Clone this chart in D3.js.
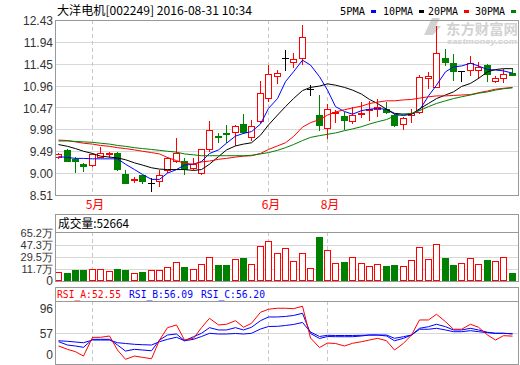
<!DOCTYPE html>
<html>
<head>
<meta charset="utf-8">
<script src="https://cdn.jsdelivr.net/npm/d3@7"></script>
<style>
  html, body { margin: 0; padding: 0; background: #fff; }
  svg { display: block; }
</style>
</head>
<body>
<div id="chart"></div>
<script>
// ---- data ----
var opens  = [9.37,9.52,9.31,9.21,9.19,9.37,9.43,9.44,8.98,8.85,8.96,8.79,8.82,9.08,9.28,9.28,9.11,9.00,9.53,9.84,9.90,9.93,10.09,9.82,10.17,10.68,11.18,11.59,11.50,11.57,10.88,10.30,10.00,10.37,10.28,10.17,10.34,10.42,10.43,10.44,10.30,10.11,10.30,10.38,11.12,10.94,11.57,11.47,11.29,11.31,11.31,11.43,11.06,11.12,11.25];
var highs  = [9.45,9.53,9.37,9.22,9.45,9.59,9.47,9.48,9.07,8.92,8.96,8.88,9.07,9.37,9.78,9.34,9.33,9.55,10.17,9.89,10.07,10.07,10.32,10.19,11.06,11.42,11.32,11.76,11.68,12.32,10.97,10.75,10.54,10.41,10.38,10.49,10.60,10.62,10.67,10.60,10.32,10.26,10.43,11.20,11.27,12.29,11.79,11.66,11.29,11.63,11.49,11.45,11.17,11.34,11.35];
var lows   = [9.33,9.27,9.03,9.05,9.17,9.36,9.37,9.07,8.77,8.81,8.77,8.61,8.72,9.02,9.25,8.99,9.10,8.97,9.50,9.69,9.70,9.63,9.89,9.74,10.15,10.62,11.01,11.30,11.38,11.44,10.75,9.97,9.78,10.15,9.99,10.13,10.26,10.20,10.28,10.34,10.06,9.99,10.14,10.34,10.90,10.92,11.42,11.09,11.06,11.20,11.12,11.07,11.04,11.05,11.19];
var closes = [9.43,9.28,9.28,9.16,9.43,9.44,9.44,9.10,8.79,8.86,8.83,8.79,8.96,9.33,9.44,9.10,9.20,9.53,9.97,9.81,9.88,10.05,9.92,10.05,10.79,11.21,11.24,11.59,11.55,12.04,10.88,10.08,10.44,10.38,10.20,10.30,10.35,10.43,10.47,10.38,10.08,10.23,10.35,11.15,11.18,11.68,11.48,11.29,11.29,11.47,11.38,11.23,11.12,11.22,11.20];
// volume in 万
var volumes = [6.8,5.3,9.8,9.8,11.2,11.2,8.3,11.7,9.8,5.3,6.8,9.8,9.8,15.1,22.5,14.7,11.2,19.6,29.1,17.6,17.6,26.1,28.0,18.7,46.3,53.3,35.0,42.5,23.6,35.0,12.7,59.2,39.9,20.2,22.1,29.1,20.2,15.7,18.7,16.2,17.6,15.7,24.6,43.9,26.1,48.4,28.0,17.6,20.2,28.0,18.7,25.1,23.6,29.1,5.2664];

var ma5  = [9.37,9.35,9.33,9.33,9.32,9.32,9.32,9.32,9.20,9.08,8.97,8.86,8.86,9.00,9.08,9.18,9.20,9.26,9.44,9.52,9.67,9.83,9.89,9.93,10.10,10.45,10.67,11.05,11.27,11.53,11.42,11.16,10.86,10.49,10.38,10.32,10.40,10.43,10.45,10.43,10.32,10.29,10.32,10.41,10.73,10.97,11.27,11.38,11.40,11.46,11.40,11.32,11.31,11.29,11.24];
var ma10 = [9.64,9.60,9.55,9.49,9.44,9.38,9.36,9.34,9.30,9.23,9.18,9.12,9.09,9.08,9.08,9.08,9.06,9.08,9.20,9.37,9.52,9.61,9.65,9.68,9.85,10.08,10.30,10.49,10.67,10.85,10.92,10.95,11.00,10.97,10.92,10.86,10.77,10.65,10.56,10.43,10.34,10.32,10.32,10.44,10.56,10.67,10.75,10.82,10.94,11.01,11.12,11.27,11.32,11.34,11.34];
var ma20 = [9.74,9.73,9.70,9.67,9.65,9.62,9.60,9.57,9.55,9.52,9.49,9.46,9.43,9.35,9.28,9.22,9.20,9.25,9.27,9.31,9.33,9.36,9.38,9.39,9.44,9.53,9.61,9.68,9.82,10.03,10.13,10.20,10.30,10.37,10.42,10.46,10.50,10.56,10.59,10.62,10.62,10.64,10.65,10.68,10.71,10.73,10.73,10.74,10.75,10.76,10.80,10.84,10.88,10.90,10.92];
var ma30 = [9.72,9.72,9.71,9.70,9.69,9.67,9.65,9.62,9.60,9.57,9.55,9.53,9.51,9.49,9.47,9.43,9.41,9.39,9.39,9.39,9.39,9.39,9.39,9.40,9.43,9.46,9.51,9.57,9.64,9.73,9.80,9.84,9.87,9.90,9.95,9.99,10.04,10.10,10.15,10.20,10.28,10.32,10.34,10.40,10.49,10.56,10.62,10.67,10.71,10.75,10.79,10.82,10.86,10.89,10.91];

var rsiA = [37.2,32.0,28.3,21.5,50.7,50.7,52.8,30.9,16.4,21.5,19.5,17.3,46.5,65.8,70.0,46.5,49.2,65.8,80.4,70.0,71.1,76.7,66.4,72.6,89.8,94.5,96.1,96.1,95.4,99.2,49.7,34.8,41.8,41.1,37.2,41.4,43.9,46.5,49.2,45.4,30.9,41.4,54.3,77.8,77.8,86.7,75.1,63.3,63.3,71.1,66.4,54.3,46.5,53.3,52.55];
var rsiB = [43.9,38.7,37.2,35.1,47.6,47.6,47.6,38.7,29.3,32.0,30.9,29.8,46.5,54.3,55.9,45.4,51.7,57.0,65.8,62.2,62.2,65.8,62.2,66.4,76.7,82.5,82.5,83.3,84.8,88.2,56.7,48.9,52.0,51.7,51.7,51.7,52.8,54.3,54.3,52.8,45.4,49.2,54.3,64.8,67.3,71.1,67.3,62.2,62.2,64.8,62.2,58.6,57.0,57.0,56.09];
var rsiC = [45.4,44.5,43.4,42.3,46.5,46.5,46.5,42.3,41.1,39.8,39.2,38.7,43.9,47.6,50.8,45.4,47.6,52.0,57.0,55.9,55.9,56.7,55.9,57.0,63.7,67.6,67.9,69.2,70.8,73.9,59.0,52.0,53.9,53.6,53.6,53.6,53.9,54.3,54.3,54.3,49.2,51.7,54.3,63.3,63.3,64.8,62.2,59.5,59.5,61.1,59.5,57.9,57.0,57.0,56.20];

var monthIdx  = [4, 25, 32];
var monthText = ["5月", "6月", "8月"];
var priceTicks = [8.51, 9.00, 9.49, 9.98, 10.47, 10.96, 11.45, 11.94, 12.43];
var volTicks   = [11.7, 29.5, 47.3, 65.2];
var rsiTicks   = [96, 57];
var maNames  = ["5PMA", "10PMA", "20PMA", "30PMA"];
var maColors = ["#0000ff", "#000000", "#ff0000", "#008000"];

// ---- layout ----
var W = 520, H = 365;
var L = 55, R = 518;
var mainTop = 20, mainBot = 195;
var volTop = 214, volHead = 232, volBot = 281;
var rsiTop = 287, rsiHead = 301, rsiBot = 364;
var UP = "#ff0000", DOWN = "#008000", FRAME = "#999999", GRID = "#d8d8d8";
var labelFont = "Liberation Sans, Arial, sans-serif";

var svg = d3.select("#chart").append("svg")
    .attr("width", W).attr("height", H)
    .attr("viewBox", "0 0 " + W + " " + H);

var n = closes.length;
var x = d3.scaleBand().domain(d3.range(n)).range([54, 516]);
function cx(i) { return Math.round(x(i) + x.bandwidth() / 2); }

var y = d3.scaleLinear().domain([8.51, 12.43]).range([mainBot, mainTop]);
// volume panel: 11.7万 grid at 269, 65.2万 at 233
var yv = d3.scaleLinear().domain([11.7, 65.2]).range([269, 233]);
// rsi panel: 57 grid at 333
var yr = d3.scaleLinear().domain([57, 96]).range([333.3, 308.3]);

// watermark
var wm = svg.append("g").attr("fill", "#d2d2d2");
wm.append("path").attr("d", "M424,35 L432,18 L440,18 L436,26 L441,26 L433,35 Z");
wm.append("text").attr("x", 446).attr("y", 34)
    .attr("font-family", "Noto Sans CJK SC").attr("font-weight", "bold").attr("font-size", 14)
    .attr("textLength", 72).attr("lengthAdjust", "spacingAndGlyphs").text("东方财富网");
wm.append("text").attr("x", 447).attr("y", 44)
    .attr("font-family", labelFont).attr("font-weight", "bold").attr("font-style", "italic").attr("font-size", 7)
    .attr("textLength", 70).attr("lengthAdjust", "spacingAndGlyphs").text("eastmoney.com");

// ---- grids ----
var grid = svg.append("g").attr("stroke", GRID).attr("shape-rendering", "crispEdges");
priceTicks.slice(1, -1).forEach(function (t) {
    grid.append("line").attr("x1", L).attr("x2", R)
        .attr("y1", Math.round(y(t)) + 0.5).attr("y2", Math.round(y(t)) + 0.5);
});
volTicks.slice(0, 3).forEach(function (t) {
    grid.append("line").attr("x1", L).attr("x2", R)
        .attr("y1", Math.round(yv(t)) + 0.5).attr("y2", Math.round(yv(t)) + 0.5);
});
grid.append("line").attr("x1", L).attr("x2", R)
    .attr("y1", Math.round(yr(57)) + 0.5).attr("y2", Math.round(yr(57)) + 0.5);

// month dashed lines
var dash = svg.append("g").attr("stroke", "#c8c8c8").attr("stroke-dasharray", "4,3").attr("shape-rendering", "crispEdges");
monthIdx.forEach(function (i) {
    [[mainTop, mainBot], [volHead, volBot], [rsiHead, rsiBot]].forEach(function (p) {
        dash.append("line").attr("x1", cx(i) + 0.5).attr("x2", cx(i) + 0.5).attr("y1", p[0]).attr("y2", p[1]);
    });
});

// ---- candles ----
var candles = svg.append("g").attr("shape-rendering", "crispEdges");
d3.range(n).forEach(function (i) {
    var o = opens[i], c = closes[i];
    var col = c > o ? UP : (c < o ? DOWN : "#000000");
    var px = cx(i);
    var g = candles.append("g");
    g.append("line").attr("x1", px + 0.5).attr("x2", px + 0.5)
        .attr("y1", Math.round(y(highs[i]))).attr("y2", Math.round(y(lows[i])) + 1)
        .attr("stroke", col);
    var top = Math.round(y(Math.max(o, c))), bot = Math.round(y(Math.min(o, c)));
    if (c > o) {
        g.append("rect").attr("x", px - 3 + 0.5).attr("y", top + 0.5)
            .attr("width", 6).attr("height", Math.max(1, bot - top))
            .attr("fill", "#fff").attr("stroke", col);
    } else if (c < o) {
        g.append("rect").attr("x", px - 3).attr("y", top)
            .attr("width", 7).attr("height", Math.max(1, bot - top + 1))
            .attr("fill", col);
    } else {
        g.append("line").attr("x1", px - 3).attr("x2", px + 4)
            .attr("y1", top + 0.5).attr("y2", top + 0.5).attr("stroke", col);
    }
});

// ---- moving averages ----
var line = d3.line().x(function (d, i) { return cx(i) + 0.5; }).y(function (d) { return y(d); });
[ma5, ma10, ma20, ma30].forEach(function (s, k) {
    svg.append("path").datum(s).attr("d", line)
        .attr("fill", "none").attr("stroke", maColors[k]).attr("stroke-width", 1);
});

// ---- volume ----
var vol = svg.append("g").attr("shape-rendering", "crispEdges");
d3.range(n).forEach(function (i) {
    var up = closes[i] >= opens[i];
    var px = cx(i), top = Math.round(yv(volumes[i]));
    if (up) {
        vol.append("rect").attr("x", px - 3 + 0.5).attr("y", top + 0.5)
            .attr("width", 6).attr("height", volBot - 1 - top)
            .attr("fill", "#fff").attr("stroke", UP);
    } else {
        vol.append("rect").attr("x", px - 3).attr("y", top)
            .attr("width", 7).attr("height", volBot - top)
            .attr("fill", DOWN);
    }
});

// ---- rsi ----
var rline = d3.line().x(function (d, i) { return cx(i) + 0.5; }).y(function (d) { return yr(d); });
[[rsiC, "#0000ff"], [rsiB, "#0000ff"], [rsiA, "#ff0000"]].forEach(function (p) {
    svg.append("path").datum(p[0]).attr("d", rline)
        .attr("fill", "none").attr("stroke", p[1]).attr("stroke-width", 1);
});

// ---- frames ----
var frames = svg.append("g").attr("fill", "none").attr("stroke", FRAME).attr("shape-rendering", "crispEdges");
frames.append("rect").attr("x", L + 0.5).attr("y", mainTop + 0.5).attr("width", R - L).attr("height", mainBot - mainTop);
frames.append("rect").attr("x", L + 0.5).attr("y", volTop + 0.5).attr("width", R - L).attr("height", volBot - volTop);
frames.append("line").attr("x1", L).attr("x2", R).attr("y1", volHead + 0.5).attr("y2", volHead + 0.5);
frames.append("rect").attr("x", L + 0.5).attr("y", rsiTop + 0.5).attr("width", R - L).attr("height", rsiBot - rsiTop);
frames.append("line").attr("x1", L).attr("x2", R).attr("y1", rsiHead + 0.5).attr("y2", rsiHead + 0.5);

// ---- axis labels ----
var lab = svg.append("g").attr("font-family", labelFont).attr("font-size", 12)
    .attr("fill", "#333").attr("text-anchor", "end");
priceTicks.forEach(function (t) {
    lab.append("text").attr("x", 53).attr("y", y(t) + 5).text(t.toFixed(2));
});
volTicks.forEach(function (t) {
    lab.append("text").attr("x", 53).attr("y", yv(t) + 4).attr("font-size", 11)
        .text(t.toFixed(1) + "万");
});
lab.append("text").attr("x", 53).attr("y", 285).text("0");
rsiTicks.forEach(function (t) {
    lab.append("text").attr("x", 53).attr("y", yr(t) + 5).text(t);
});
lab.append("text").attr("x", 53).attr("y", 359).text("0");

// month labels
monthIdx.forEach(function (i, k) {
    svg.append("text").attr("x", cx(i) + 3).attr("y", 209)
        .attr("text-anchor", "middle").attr("font-family", "Noto Sans CJK SC").attr("font-size", 12)
        .attr("fill", "#ff0000").text(monthText[k]);
});

// ---- titles ----
svg.append("text").attr("x", 57).attr("y", 15)
    .attr("font-family", "Noto Sans CJK SC").attr("font-size", 12).attr("fill", "#000")
    .attr("textLength", 195).attr("lengthAdjust", "spacingAndGlyphs")
    .text("大洋电机[002249] 2016-08-31 10:34");

var legX = [340, 383, 428, 475];
var legW = [25, 30, 30, 30];
maNames.forEach(function (nm, k) {
    svg.append("text").attr("x", legX[k]).attr("y", 15)
        .attr("font-family", "DejaVu Sans Mono, monospace").attr("font-size", 11).attr("fill", "#000")
        .attr("textLength", legW[k]).attr("lengthAdjust", "spacingAndGlyphs").text(nm);
    svg.append("rect").attr("x", legX[k] + legW[k] + 6).attr("y", 10)
        .attr("width", 5).attr("height", 3).attr("fill", maColors[k]);
});

svg.append("text").attr("x", 58).attr("y", 228)
    .attr("font-family", "Noto Sans CJK SC").attr("font-size", 12).attr("fill", "#000")
    .attr("textLength", 71).attr("lengthAdjust", "spacingAndGlyphs")
    .text("成交量:" + Math.round(volumes[n - 1] * 10000));

var rsiHeads = [["RSI_A:" + rsiA[n - 1].toFixed(2), "#ff0000", 57],
                ["RSI_B:" + rsiB[n - 1].toFixed(2), "#0000ff", 129],
                ["RSI_C:" + rsiC[n - 1].toFixed(2), "#0000ff", 201]];
rsiHeads.forEach(function (h) {
    svg.append("text").attr("x", h[2]).attr("y", 298)
        .attr("font-family", "DejaVu Sans Mono, monospace").attr("font-size", 11).attr("fill", h[1])
        .attr("textLength", 64).attr("lengthAdjust", "spacingAndGlyphs").text(h[0]);
});
</script>
</body>
</html>
